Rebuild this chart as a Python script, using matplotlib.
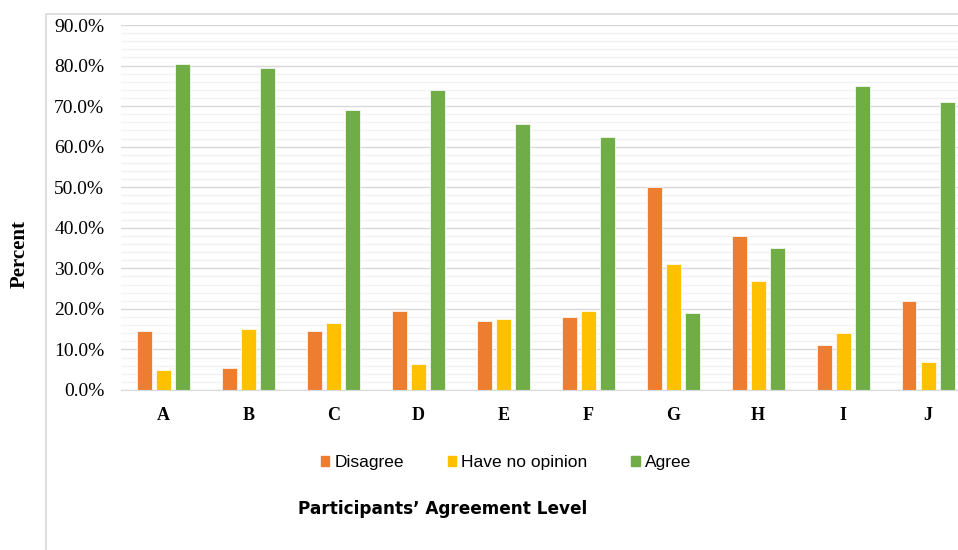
import numpy as np
import matplotlib
matplotlib.use("Agg")
import matplotlib.pyplot as plt
from matplotlib.patches import Patch, Rectangle
from matplotlib.ticker import MultipleLocator, FuncFormatter

categories = ["A", "B", "C", "D", "E", "F", "G", "H", "I", "J"]
disagree = [14.5, 5.5, 14.5, 19.5, 17.0, 18.0, 50.0, 38.0, 11.0, 22.0]
no_opinion = [5.0, 15.0, 16.5, 6.5, 17.5, 19.5, 31.0, 27.0, 14.0, 7.0]
agree = [80.5, 79.5, 69.0, 74.0, 65.5, 62.5, 19.0, 35.0, 75.0, 71.0]
series_names = ["Disagree", "Have no opinion", "Agree"]
colors = ["#ED7D31", "#FFC000", "#70AD47"]

W, H = 958, 550
fig = plt.figure(figsize=(W / 100, H / 100), dpi=100)

# light chart-area border (left and top, right side is cut off)
fig.patches.append(Rectangle((46 / W, -0.1), 1.2, 1.1 - 14 / H, transform=fig.transFigure,
                             fill=False, edgecolor="#d9d9d9", linewidth=1.2))

ax = fig.add_axes([121 / W, 1 - 390 / H, (970.5 - 121) / W, (390 - 25) / H])

x = np.arange(len(categories))
step = 0.224
width = 0.176
for i, (vals, c) in enumerate(zip([disagree, no_opinion, agree], colors)):
    ax.bar(x + (i - 1) * step, vals, width, color=c, edgecolor="white", linewidth=0.5, zorder=3)

ax.set_xlim(-0.5, len(categories) - 0.5)
ax.set_ylim(0, 90)
ax.yaxis.set_major_locator(MultipleLocator(10))
ax.yaxis.set_minor_locator(MultipleLocator(2))
ax.yaxis.set_major_formatter(FuncFormatter(lambda v, p: f"{v:.1f}%"))
ax.grid(axis="y", which="major", color="#d9d9d9", linewidth=1.0, zorder=0)
ax.grid(axis="y", which="minor", color="#f2f2f2", linewidth=1.0, zorder=0)
ax.set_xticks(x)
ax.set_xticklabels(categories, fontfamily="Liberation Serif", fontweight="bold", fontsize=13)
ax.tick_params(axis="both", which="both", length=0)
ax.tick_params(axis="y", pad=12, labelsize=14)
ax.tick_params(axis="x", pad=12)
for lbl in ax.get_yticklabels():
    lbl.set_fontfamily("Liberation Serif")
for s in ["top", "right", "left"]:
    ax.spines[s].set_visible(False)
ax.spines["bottom"].set_color("#d9d9d9")
ax.spines["bottom"].set_zorder(4)

fig.text(20 / W, 1 - 254 / H, "Percent", rotation=90, ha="center", va="center",
         fontfamily="Liberation Serif", fontweight="bold", fontsize=15)

handles = [Patch(color=c, label=n) for c, n in zip(colors, series_names)]
fig.legend(handles=handles, loc="center", bbox_to_anchor=(506 / W, 1 - 463 / H), ncol=3,
           frameon=False, prop={"family": "Liberation Sans", "size": 12.5},
           handlelength=0.5, handleheight=0.5, handletextpad=0.3, columnspacing=2.5)

fig.text(443 / W, 1 - 509 / H, "Participants\u2019 Agreement Level", ha="center", va="center",
         fontfamily="DejaVu Sans", fontweight="heavy", fontsize=12.2)

fig.savefig("out.png", dpi=100)
